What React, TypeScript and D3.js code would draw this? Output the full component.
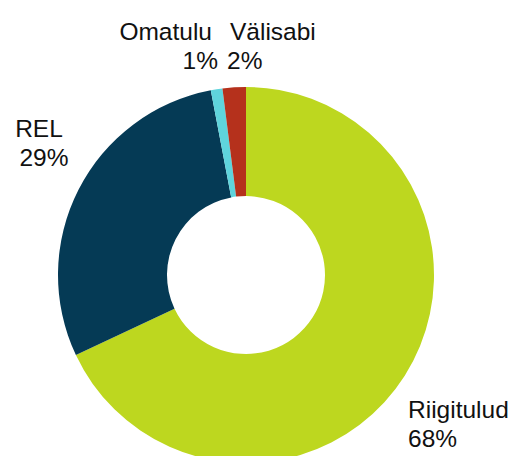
import React, { useRef, useEffect } from 'react';
import * as d3 from 'd3';

// chart data
const categories = ['Riigitulud', 'REL', 'Omatulu', 'Välisabi'];
const shares = [68, 29, 1, 2];
const colors = ['#bdd71f', '#053a55', '#5fd4dc', '#b5311c'];

// where excel put each label: name x, value x, baseline of first line, anchor
const labelPos: [number, number, number, string][] = [
  [408, 408, 418, 'start'],
  [39, 44, 137, 'middle'],
  [212, 218, 40, 'end'],
  [230, 227, 40, 'start'],
];

const W = 512;
const H = 456;

export default function App() {
  const svgRef = useRef<SVGSVGElement>(null);

  useEffect(() => {
    const svg = d3.select(svgRef.current);
    svg.selectAll('*').remove();

    const cx = 246;
    const cy = 275;
    const outerR = 188;
    const innerR = 79;

    const pie = d3.pie<number>().sort(null).value(d => d);
    const arc = d3.arc<d3.PieArcDatum<number>>().innerRadius(innerR).outerRadius(outerR);

    const g = svg.append('g').attr('transform', `translate(${cx},${cy})`);
    g.selectAll('path')
      .data(pie(shares))
      .join('path')
      .attr('d', arc)
      .attr('fill', (_, i) => colors[i]);

    const labels = svg
      .append('g')
      .style('font-family', '"Liberation Sans", Arial, sans-serif')
      .style('font-size', '24.5px')
      .attr('fill', '#111');

    categories.forEach((name, i) => {
      const [x1, x2, y, anchor] = labelPos[i];
      const t = labels.append('text').attr('text-anchor', anchor);
      t.append('tspan').attr('x', x1).attr('y', y).text(name);
      t.append('tspan').attr('x', x2).attr('y', y + 29).text(shares[i] + '%');
    });
  }, []);

  return (
    <svg
      ref={svgRef}
      width={W}
      height={H}
      style={{ position: 'absolute', left: 0, top: 0, background: '#fff' }}
    />
  );
}
